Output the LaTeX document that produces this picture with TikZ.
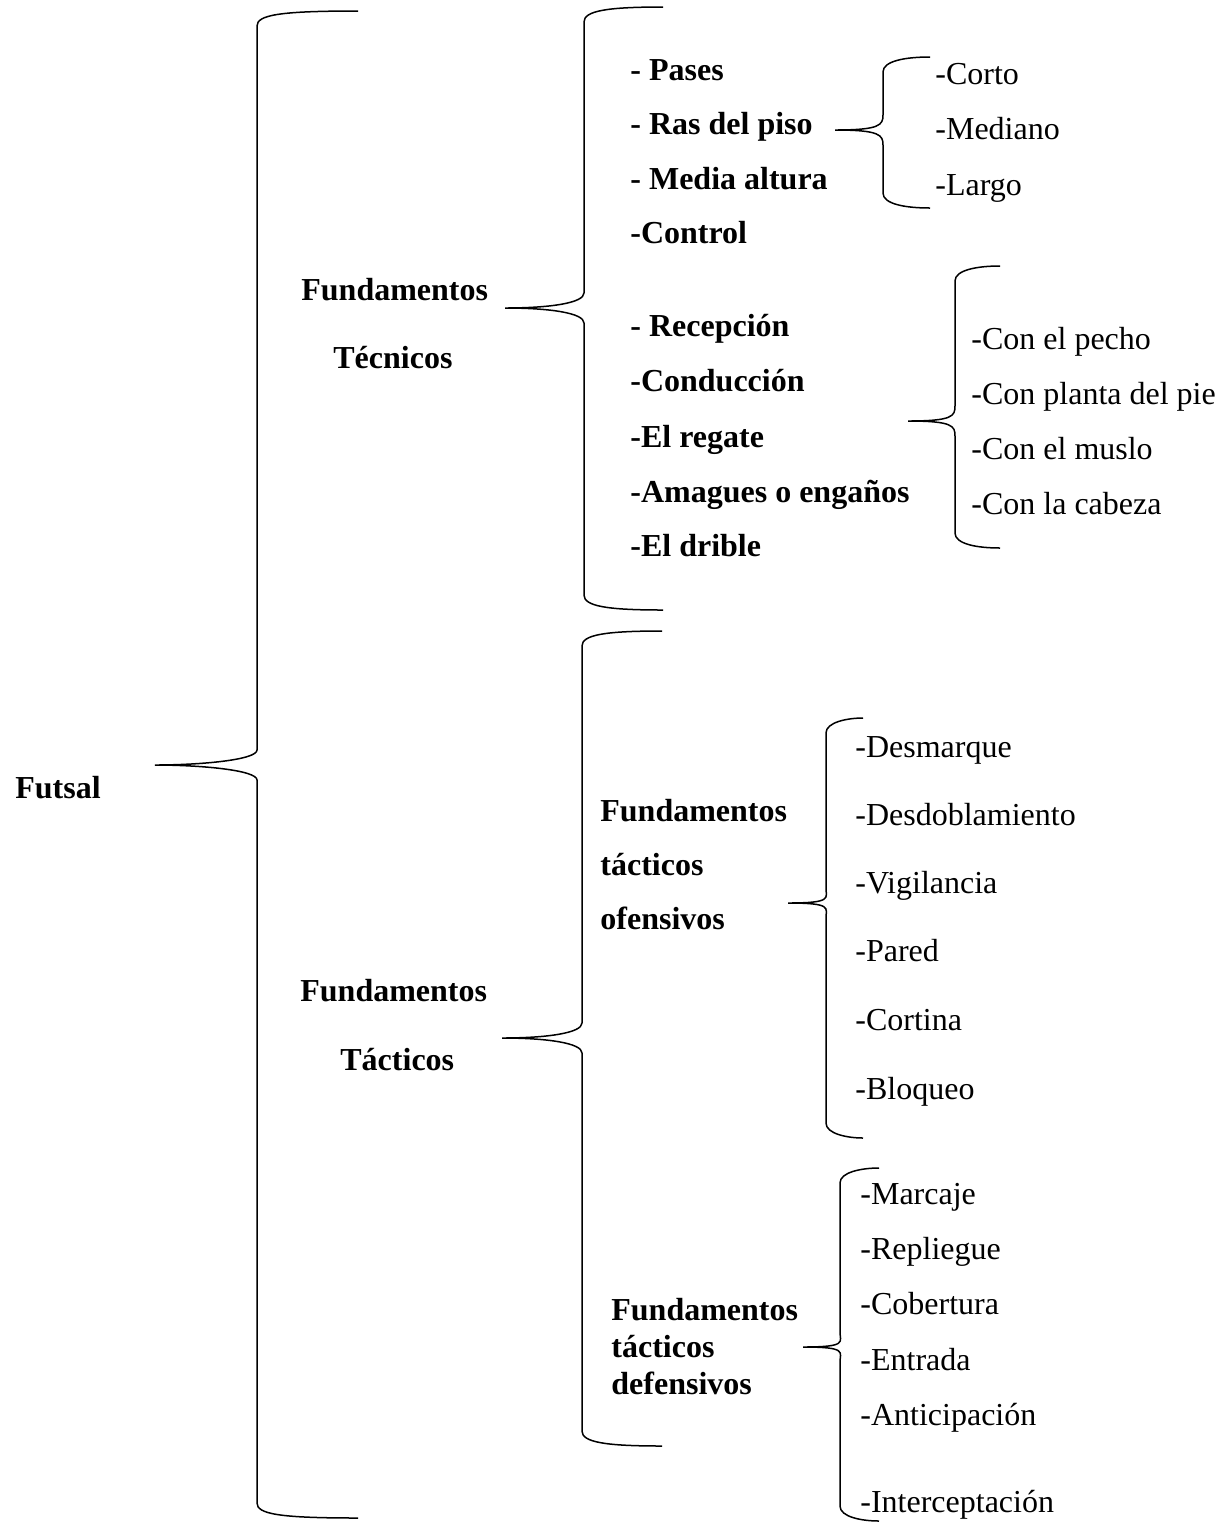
\documentclass[tikz,border=0pt]{standalone}
\usepackage{fontspec}
\setmainfont{Liberation Serif}
\tikzset{
  bracestroke/.style={line width=0.75pt, black},
  lbl/.style={anchor=base west, inner sep=0pt, font=\fontsize{16}{20}\selectfont},
  blbl/.style={lbl, font=\fontsize{16}{20}\selectfont\bfseries},
}
% curly brace: #1 x of the arm ends, #2 top y, #3 x of the spine,
% #4 y of the tip, #5 x of the tip, #6 bottom y
\newcommand\curlybrace[6]{%
  \draw[bracestroke] (#1,#2) .. controls ({#3+22},{#2}) and (#3,{#2+4}) .. (#3,{#2+15})
    -- (#3,{#4-15}) .. controls (#3,{#4-5}) and ({#5+45},{#4}) .. (#5,#4)
    .. controls ({#5+45},{#4}) and (#3,{#4+5}) .. (#3,{#4+15})
    -- (#3,{#6-15}) .. controls (#3,{#6-4}) and ({#3+22},{#6}) .. (#1,#6);}
\begin{document}
\begin{tikzpicture}[x=0.5pt,y=-0.5pt]
\useasboundingbox (0,0) rectangle (1232,1523);

% root
\node[blbl] (futsal) at (15,798) {Futsal};
\curlybrace{358}{11}{257}{765}{155}{1518}

% technical branch
\node[blbl] (ft1) at (301,300) {Fundamentos};
\node[blbl] (ft2) at (333,368) {Técnicos};
\curlybrace{663}{7}{584}{308}{505}{610}

\node[blbl] (pases)   at (630,80)  {- Pases};
\node[blbl] (ras)     at (630,134) {- Ras del piso};
\node[blbl] (media)   at (630,189) {- Media altura};
\node[blbl] (control) at (630,243) {-Control};
\node[blbl] (recep)   at (630,336) {- Recepción};
\node[blbl] (cond)    at (630,391) {-Conducción};
\node[blbl] (regate)  at (630,447) {-El regate};
\node[blbl] (amag)    at (630,502) {-Amagues o engaños};
\node[blbl] (drible)  at (630,556) {-El drible};

\curlybrace{930}{57}{883}{130}{835}{208}
\node[lbl] (corto)   at (935,84)  {-Corto};
\node[lbl] (mediano) at (935,139) {-Mediano};
\node[lbl] (largo)   at (935,195) {-Largo};

\curlybrace{1000}{266}{955}{421}{908}{548}
\node[lbl] (pecho)  at (971,349) {-Con el pecho};
\node[lbl] (planta) at (971,404) {-Con planta del pie};
\node[lbl] (muslo)  at (971,459) {-Con el muslo};
\node[lbl] (cabeza) at (971,514) {-Con la cabeza};

% tactical branch
\node[blbl] (fc1) at (300,1001) {Fundamentos};
\node[blbl] (fc2) at (340,1070) {Tácticos};
\curlybrace{662}{631}{582}{1038}{502}{1446}

\node[blbl] (of1) at (600,821) {Fundamentos};
\node[blbl] (of2) at (600,875) {tácticos};
\node[blbl] (of3) at (600,929) {ofensivos};
\curlybrace{863}{718}{826}{903}{788}{1138}
\node[lbl] (desm)  at (855,757)  {-Desmarque};
\node[lbl] (desd)  at (855,825)  {-Desdoblamiento};
\node[lbl] (vigi)  at (855,893)  {-Vigilancia};
\node[lbl] (pared) at (855,961)  {-Pared};
\node[lbl] (cort)  at (855,1030) {-Cortina};
\node[lbl] (bloq)  at (855,1099) {-Bloqueo};

\node[blbl] (df1) at (611,1320) {Fundamentos};
\node[blbl] (df2) at (611,1357) {tácticos};
\node[blbl] (df3) at (611,1394) {defensivos};
\curlybrace{879}{1168}{840}{1347}{803}{1521}
\node[lbl] (marc)  at (860,1204) {-Marcaje};
\node[lbl] (repl)  at (860,1259) {-Repliegue};
\node[lbl] (cobe)  at (860,1314) {-Cobertura};
\node[lbl] (entr)  at (860,1370) {-Entrada};
\node[lbl] (anti)  at (860,1425) {-Anticipación};
\node[lbl] (inter) at (860,1512) {-Interceptación};
\end{tikzpicture}
\end{document}
